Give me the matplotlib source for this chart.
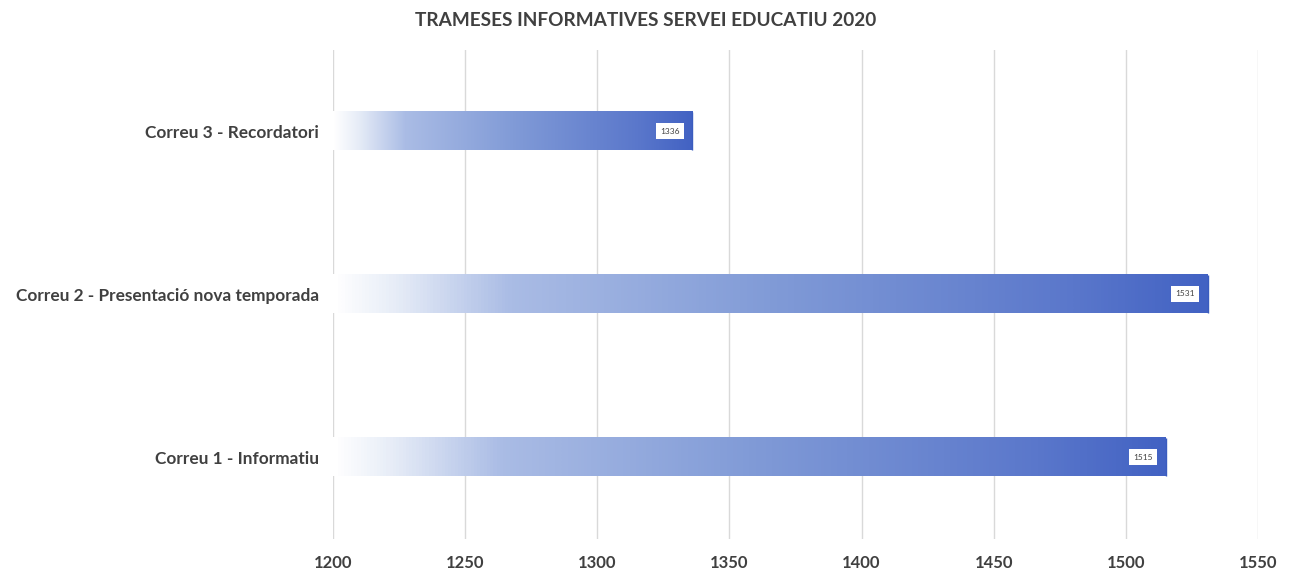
import numpy as np
import matplotlib
matplotlib.use("Agg")
import matplotlib.pyplot as plt
from matplotlib.colors import LinearSegmentedColormap

categories = ["Correu 1 - Informatiu", "Correu 2 - Presentació nova temporada", "Correu 3 - Recordatori"]
values = [1515, 1531, 1336]
x_ticks = [1200, 1250, 1300, 1350, 1400, 1450, 1500, 1550]
title = "TRAMESES INFORMATIVES SERVEI EDUCATIU 2020"

plt.rcParams["font.family"] = ["Lato", "DejaVu Sans"]

fig = plt.figure(figsize=(12.92, 5.73), dpi=100)
ax = fig.add_axes([333 / 1292, 1 - 538.5 / 573, (1258 - 333) / 1292, (538.5 - 49.5) / 573])

xmin, xmax = 1200, 1550
bar_h = 0.235
grad = LinearSegmentedColormap.from_list(
    "bar", [(0.0, "#ffffff"), (0.07, "#e6ecf7"), (0.2, "#aabce5"),
            (0.5, "#819bd7"), (0.85, "#5a77cb"), (1.0, "#4262c3")]
)
ramp = np.linspace(0, 1, 256).reshape(1, -1)

for i, v in enumerate(values):
    ax.imshow(ramp, cmap=grad, aspect="auto", extent=[xmin, v, i - bar_h / 2, i + bar_h / 2],
              zorder=2, interpolation="bilinear")
    ax.plot([v, v], [i - bar_h / 2, i + bar_h / 2], color="#3a5cbf", linewidth=1,
            solid_capstyle="butt", zorder=3)
    ax.text(v - 8.5, i, str(v), ha="center", va="center", fontsize=6, color="#404040", zorder=4,
            bbox=dict(boxstyle="square,pad=0.5", fc="white", ec="none"))

ax.set_xlim(xmin, xmax)
ax.set_ylim(-0.5, 2.5)
ax.set_xticks(x_ticks)
ax.set_xticklabels([str(t) for t in x_ticks], fontsize=12, fontweight="bold", color="#404040")
ax.set_yticks(range(len(categories)))
ax.set_yticklabels(categories, fontsize=12.4, fontweight="bold", color="#404040")
ax.tick_params(axis="x", length=0, pad=12)
ax.tick_params(axis="y", length=0, pad=10)
ax.grid(axis="x", color="#d9d9d9", linewidth=1, zorder=0)
ax.set_axisbelow(True)
for s in ax.spines.values():
    s.set_visible(False)

fig.text(0.5, 1 - 21 / 573, title, ha="center", va="center", fontsize=13.7,
         fontweight="bold", color="#404040")

fig.savefig("out.png", dpi=100)
